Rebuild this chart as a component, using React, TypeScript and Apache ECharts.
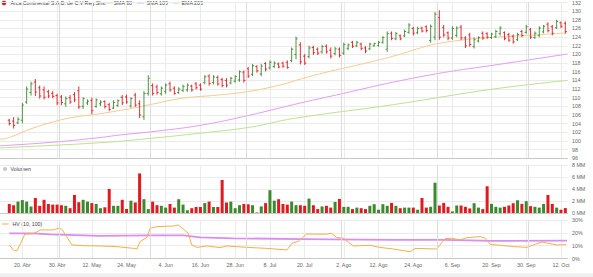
import React, { useEffect, useRef } from "react";
import * as echarts from "echarts";

// ---------------- data ----------------
const FIRST_DAY = "2021-04-15";
const LAST_DAY = "2021-10-13";
const HOLIDAYS = ["2021-09-16"];

const MONTHS_ES = ["Ene", "Feb", "Mar", "Abr", "May", "Jun", "Jul", "Ago", "Sep", "Oct", "Nov", "Dic"];
const tickDates = [
  "2021-04-20", "2021-04-30", "2021-05-12", "2021-05-24", "2021-06-04", "2021-06-16",
  "2021-06-28", "2021-07-08", "2021-07-20", "2021-08-02", "2021-08-12", "2021-08-24",
  "2021-09-06", "2021-09-20", "2021-09-30", "2021-10-12",
];

const opens = [
  104.8, 104.6, 104.2, 104.8, 109.0, 111.2, 113.6, 112.3, 111.8, 111.4,
  111.0, 110.5, 110.2, 108.6, 110.0, 110.7, 111.6, 108.0, 108.8, 109.4,
  108.0, 108.6, 109.1, 108.4, 107.6, 108.2, 110.1, 110.2, 108.1, 110.6,
  108.6, 105.6, 111.0, 112.8, 112.5, 110.9, 111.4, 113.2, 112.2, 111.2,
  111.7, 111.8, 112.7, 113.2, 112.9, 113.5, 115.0, 113.5, 114.7, 114.2,
  114.0, 113.4, 113.8, 114.1, 115.9, 116.7, 115.4, 117.2, 115.5, 117.9,
  116.9, 117.2, 117.8, 118.0, 118.2, 118.6, 120.0, 122.2, 119.6, 119.5,
  121.6, 121.2, 120.6, 121.9, 121.0, 120.2, 121.2, 120.3, 121.4, 122.8,
  122.0, 122.4, 121.5, 121.3, 122.0, 122.1, 122.8, 121.2, 124.9, 123.6,
  124.3, 124.3, 125.1, 126.0, 125.0, 126.1, 126.4, 123.2, 124.0, 128.5,
  126.2, 125.0, 123.8, 124.4, 126.3, 123.8, 124.5, 121.8, 123.1, 124.9,
  124.8, 123.9, 124.1, 124.8, 125.0, 124.6, 124.2, 123.4, 125.3, 125.1,
  125.7, 123.9, 124.4, 125.2, 127.0, 126.4, 126.2, 127.3, 127.2,
];
const highs = [
  105.0, 105.4, 105.4, 108.7, 112.5, 113.6, 114.2, 112.7, 112.5, 111.7,
  111.4, 110.8, 110.5, 110.2, 110.5, 111.2, 112.5, 110.0, 109.5, 109.9,
  109.7, 109.3, 109.3, 108.7, 109.3, 109.5, 110.5, 110.6, 110.0, 111.0,
  109.3, 111.4, 115.1, 113.2, 112.9, 112.5, 113.2, 113.6, 112.5, 112.3,
  112.9, 113.2, 112.9, 113.5, 113.2, 115.1, 115.3, 115.1, 115.0, 114.5,
  114.4, 114.7, 115.1, 116.2, 116.2, 117.0, 117.7, 117.4, 117.7, 118.1,
  118.5, 118.3, 118.0, 118.2, 118.5, 121.5, 124.0, 122.7, 120.0, 121.9,
  121.9, 121.5, 122.1, 122.2, 121.5, 121.6, 121.5, 122.6, 122.4, 123.0,
  123.0, 122.6, 121.8, 122.6, 122.6, 123.0, 124.1, 125.2, 125.2, 125.1,
  124.5, 125.6, 127.1, 126.3, 126.3, 126.3, 126.6, 126.8, 129.7, 130.1,
  126.7, 125.2, 126.4, 126.4, 126.7, 124.1, 124.9, 123.8, 124.1, 125.2,
  125.0, 124.9, 125.6, 126.4, 125.2, 124.9, 124.5, 124.9, 125.6, 126.7,
  126.0, 125.2, 126.4, 126.7, 127.3, 126.7, 127.9, 127.5, 127.5,
];
const lows = [
  103.7, 103.0, 104.0, 104.2, 108.7, 110.6, 110.5, 109.9, 109.7, 110.0,
  110.0, 108.4, 108.4, 108.0, 108.7, 109.1, 107.5, 107.5, 108.4, 106.3,
  107.8, 108.2, 107.6, 107.0, 107.5, 108.0, 108.4, 108.7, 107.8, 108.0,
  105.4, 105.0, 110.6, 110.6, 110.8, 110.6, 111.0, 111.5, 110.8, 111.0,
  111.4, 111.5, 111.5, 112.0, 111.7, 113.2, 112.9, 113.2, 112.9, 112.5,
  112.5, 113.2, 113.6, 113.8, 113.6, 114.7, 115.1, 115.9, 115.1, 116.2,
  116.6, 117.0, 116.9, 117.0, 116.8, 118.3, 119.0, 117.8, 117.7, 119.2,
  120.0, 120.0, 120.3, 120.3, 119.2, 119.9, 119.4, 120.0, 121.1, 121.6,
  121.8, 121.1, 120.4, 121.1, 121.9, 121.9, 122.6, 120.7, 123.4, 123.4,
  123.4, 124.1, 124.9, 124.5, 124.8, 125.2, 125.2, 122.8, 123.4, 123.5,
  124.1, 123.4, 123.5, 124.1, 123.4, 121.6, 121.9, 121.5, 122.9, 123.5,
  123.7, 123.7, 123.9, 124.5, 123.4, 123.0, 122.6, 123.2, 124.1, 124.9,
  123.7, 123.7, 124.1, 125.0, 125.2, 124.5, 126.0, 126.2, 124.9,
];
const closes = [
  104.0, 103.6, 105.0, 108.3, 112.0, 113.2, 111.3, 110.4, 110.1, 110.4,
  110.3, 108.8, 108.9, 109.8, 109.0, 109.5, 107.9, 109.8, 109.2, 107.0,
  109.5, 109.0, 108.0, 107.3, 108.9, 109.3, 108.8, 109.0, 109.8, 108.3,
  106.0, 111.0, 114.5, 111.0, 111.2, 112.2, 112.9, 111.8, 111.0, 112.0,
  112.6, 112.9, 111.8, 112.3, 112.0, 114.8, 113.3, 114.8, 113.2, 112.8,
  112.9, 114.5, 114.9, 116.0, 114.0, 115.0, 117.4, 116.2, 117.3, 116.6,
  118.2, 118.0, 117.1, 117.3, 117.0, 121.2, 123.6, 118.3, 118.0, 121.5,
  120.4, 120.3, 121.8, 120.6, 119.6, 121.3, 119.8, 122.3, 122.2, 121.9,
  122.8, 121.4, 120.8, 122.4, 122.5, 122.8, 123.9, 124.8, 123.7, 124.8,
  123.6, 125.3, 126.8, 124.9, 126.0, 125.4, 125.5, 126.5, 129.3, 124.0,
  124.5, 123.8, 126.0, 126.1, 123.8, 122.0, 122.3, 123.4, 123.9, 123.8,
  124.0, 124.7, 125.3, 126.1, 123.7, 123.3, 122.9, 124.6, 124.4, 126.4,
  124.0, 124.9, 126.1, 126.5, 125.5, 124.9, 127.6, 126.5, 125.3,
];
// volume in millions
const volumes = [
  1.5, 1.3, 1.9, 2.15, 1.9, 1.1, 2.5, 1.2, 2.2, 1.5,
  1.4, 1.4, 1.3, 1.2, 0.8, 3.0, 1.8, 2.2, 1.9, 1.65,
  1.5, 0.8, 0.95, 4.0, 1.2, 1.2, 2.2, 0.65, 2.05, 1.75,
  6.6, 2.3, 0.65, 1.9, 1.3, 1.2, 0.9, 1.5, 0.9, 2.3,
  1.4, 0.45, 0.8, 1.0, 1.0, 1.65, 1.9, 1.0, 1.0, 5.5,
  1.75, 1.9, 0.8, 1.3, 1.5, 1.45, 1.3, 0.1, 1.1, 1.65,
  3.8, 2.05, 2.3, 1.5, 1.4, 1.9, 1.3, 1.3, 1.2, 2.4,
  1.3, 0.65, 1.1, 1.2, 0.9, 1.85, 2.35, 1.03, 1.03, 0.65,
  0.9, 0.8, 0.65, 1.2, 1.47, 0.55, 1.47, 1.2, 1.68, 1.2,
  0.8, 0.9, 0.9, 0.9, 0.55, 2.5, 0.9, 1.03, 5.05, 1.25,
  1.68, 1.03, 0.27, 1.25, 1.25, 1.03, 0.76, 1.63, 0.9, 0.65,
  4.46, 1.52, 1.03, 0.9, 1.03, 1.25, 1.63, 2.12, 1.52, 1.96,
  1.14, 1.03, 0.9, 1.52, 3.0, 1.52, 0.9, 0.55, 0.82,
];
// moving averages: [bar index, price]
const sma38 = [
  [-2.14, 100.4], [0, 100.8], [5.5, 103.0], [13.3, 105.2], [20.9, 106.3], [28.5, 107.6],
  [32.4, 108.4], [40, 109.9], [47.9, 110.6], [55.5, 111.5], [63, 113.1], [67, 114.3],
  [73, 115.9], [80.8, 117.7], [88.4, 119.6], [96, 121.9], [99.2, 122.6], [105.7, 123.5],
  [113.5, 124.1], [121.1, 124.5], [128.5, 125.0],
];
const sma100 = [
  [-2.14, 98.9], [0, 99.0], [11, 99.8], [20.9, 100.8], [25.5, 101.4], [32.4, 102.1],
  [43.9, 103.6], [55.5, 106.0], [65.4, 108.4], [76.9, 111.0], [88.4, 113.6], [99.9, 115.8],
  [111.4, 117.5], [128.5, 120.1],
];
const ema200 = [
  [-2.14, 98.4], [0, 98.5], [20.9, 99.6], [32.4, 100.6], [43.9, 101.8], [55.5, 103.2],
  [65.4, 105.2], [88.4, 108.4], [111.4, 112.0], [128.5, 114.0],
];
// historical volatility (%): [bar index, value]
const hv10 = [
  [0, 10.6], [1.1, 6.1], [1.8, 6.1], [2.6, 11.9], [3.6, 19.1], [5.5, 19.3], [7.1, 22.3],
  [10.1, 22.3], [11.3, 23.6], [12.1, 22.8], [13.2, 17.1], [14.4, 10.6], [17, 10.0],
  [20.9, 9.8], [24.7, 9.3], [28.6, 7.9], [29.4, 7.4], [30.1, 13.2], [31.7, 16.5],
  [32.4, 23.6], [34, 24.9], [37.8, 25.4], [38.9, 26.2], [40.1, 22.8], [41.2, 19.7],
  [42, 10.6], [43.2, 8.7], [45.5, 9.8], [48.5, 8.5], [50.1, 9.8], [54.7, 8.7],
  [59.3, 7.9], [63.9, 6.7], [65.1, 11.9], [66.6, 13.5], [68.4, 19.1], [73, 19.0],
  [74.2, 19.7], [75.3, 16.5], [76.9, 15.8], [79.2, 9.8], [83, 10.3], [85.3, 8.7],
  [88.4, 7.4], [90.7, 6.1], [92.3, 5.3], [93.4, 7.9], [98.4, 7.4], [100.3, 15.5],
  [101.8, 15.8], [103.8, 14.5], [105.3, 16.3], [108.4, 17.1], [109.5, 16.0], [110.7, 11.1],
  [113, 10.3], [116.1, 9.3], [119.1, 8.7], [121.1, 11.1], [122.6, 12.9], [126, 10.6],
  [128.2, 10.8],
];
const hv100 = [
  [0, 19.7], [5.5, 19.7], [9.4, 18.9], [20.9, 17.6], [32.4, 18.1], [40.1, 18.1],
  [43.9, 16.5], [51.6, 15.8], [67, 15.2], [88.4, 14.5], [99.9, 14.5], [111.4, 13.7],
  [128.4, 13.9],
];

// ---------------- helpers ----------------
function buildTradingDays(from: string, to: string, skip: string[]): string[] {
  const out: string[] = [];
  const d = new Date(from + "T00:00:00Z");
  const end = new Date(to + "T00:00:00Z");
  while (d <= end) {
    const wd = d.getUTCDay();
    const iso = d.toISOString().slice(0, 10);
    if (wd !== 0 && wd !== 6 && skip.indexOf(iso) < 0) out.push(iso);
    d.setUTCDate(d.getUTCDate() + 1);
  }
  return out;
}
const dates = buildTradingDays(FIRST_DAY, LAST_DAY, HOLIDAYS);
const tickIdx = tickDates.map((d) => dates.indexOf(d));
const labelFor = (v: number) => {
  const i = Math.round(v);
  const d = dates[i];
  if (!d) return "";
  return `${parseInt(d.slice(8, 10), 10)}. ${MONTHS_ES[parseInt(d.slice(5, 7), 10) - 1]}`;
};
const monthBounds: number[] = [];
for (let i = 1; i < dates.length; i++) {
  if (dates[i].slice(5, 7) !== dates[i - 1].slice(5, 7)) monthBounds.push(i - 0.5);
}

const GREEN = "#3b8a2e";
const RED = "#e2191f";
const FONT = "'Liberation Sans', Arial, sans-serif";
const X_MIN = -2.14;
const X_MAX = 128.5;
const AXIS_FS = 5.3;
const LEGEND_FS = 5.25;

function buildOption(): any {
  const ohlc = dates.map((_, i) => [i, opens[i], closes[i], lows[i], highs[i]]);
  const vol = dates.map((_, i) => ({
    value: [i, volumes[i]],
    itemStyle: { color: closes[i] >= opens[i] ? GREEN : RED },
  }));
  const grids = [
    { left: 0, right: 25.5, top: -1.5, height: 159.8 },
    { left: 0, right: 25.5, top: 165, height: 48 },
    { left: 0, right: 25.5, top: 220.1, height: 38.4 },
  ];
  const monthMark = {
    silent: true,
    symbol: ["none", "none"],
    label: { show: false },
    lineStyle: { color: "#dcdcdc", width: 1, type: "solid" },
    data: monthBounds.map((v) => ({ xAxis: v })),
    animation: false,
  };
  const xAxes = grids.map((_, gi) => ({
    type: "value",
    gridIndex: gi,
    min: X_MIN,
    max: X_MAX,
    axisLine: { show: true, onZero: false, lineStyle: { color: "#c8c8c8", width: 1 } },
    axisTick: { show: false, customValues: tickIdx },
    axisLabel: {
      show: gi === 2,
      customValues: tickIdx,
      formatter: (v: number) => labelFor(v),
      fontSize: AXIS_FS,
      color: "#666",
      fontFamily: FONT,
      margin: 4,
    },
    splitLine: { show: true, lineStyle: { color: "#ebebeb", width: 1 } },
  }));
  const yBase = (gi: number) => ({
    type: "value",
    gridIndex: gi,
    position: "right",
    axisLine: { show: false },
    axisTick: { show: false },
    splitLine: { show: true, lineStyle: { color: "#ebebeb", width: 1 } },
  });
  const labelStyle = { fontSize: AXIS_FS, color: "#666", fontFamily: FONT, margin: 4.5 };
  const yAxes = [
    { ...yBase(0), min: 96, max: 132, interval: 2, axisLabel: { ...labelStyle } },
    { ...yBase(1), min: 0, max: 8, interval: 2, axisLabel: { ...labelStyle, formatter: "{value} MM" } },
    { ...yBase(2), min: 0, max: 30, interval: 10, axisLabel: { ...labelStyle, formatter: "{value}%" } },
  ];

  const legendText = (x: number, y: number, text: string) => ({
    type: "text",
    x,
    y,
    silent: true,
    style: { text, fontSize: LEGEND_FS, fill: "#444", fontFamily: FONT, verticalAlign: "middle" },
  });
  const legendLine = (x: number, y: number, color: string) => ({
    type: "line",
    silent: true,
    shape: { x1: x, y1: y, x2: x + 6.5, y2: y },
    style: { stroke: color, lineWidth: 1 },
  });

  return {
    animation: false,
    backgroundColor: "#ffffff",
    grid: grids,
    xAxis: xAxes,
    yAxis: yAxes,
    graphic: [
      { type: "circle", silent: true, shape: { cx: 4, cy: 3, r: 2.3 }, style: { fill: RED } },
      legendText(10.5, 3, "Arca Continental S.A.B. de C.V Reg.Shs."),
      legendLine(106, 3, "#f9c890"),
      legendText(113.5, 3, "SMA 38"),
      legendLine(137.5, 3, "#e39cf3"),
      legendText(146.5, 3, "SMA 100"),
      legendLine(173, 3, "#bde28f"),
      legendText(181.5, 3, "EMA 200"),
      { type: "circle", silent: true, shape: { cx: 5, cy: 169, r: 2 }, style: { fill: "#c8c8c8" } },
      legendText(10.5, 169, "Volumen"),
      legendLine(2, 224, "#f6ad45"),
      legendText(12.5, 224, "HV (10, 100)"),
      { type: "rect", silent: true, shape: { x: 0, y: 273.5, width: 593, height: 4 }, style: { fill: "#efefef" } },
    ],
    series: [
      {
        name: "EMA 200",
        type: "line",
        xAxisIndex: 0,
        yAxisIndex: 0,
        data: ema200,
        smooth: 0.4,
        showSymbol: false,
        lineStyle: { color: "#bde28f", width: 1 },
        markLine: monthMark,
        z: 2,
      },
      {
        name: "SMA 100",
        type: "line",
        xAxisIndex: 0,
        yAxisIndex: 0,
        data: sma100,
        smooth: 0.4,
        showSymbol: false,
        lineStyle: { color: "#e39cf3", width: 1 },
        z: 2,
      },
      {
        name: "SMA 38",
        type: "line",
        xAxisIndex: 0,
        yAxisIndex: 0,
        data: sma38,
        smooth: 0.4,
        showSymbol: false,
        lineStyle: { color: "#f9c890", width: 1 },
        z: 2,
      },
      {
        name: "Arca Continental S.A.B. de C.V Reg.Shs.",
        type: "custom",
        xAxisIndex: 0,
        yAxisIndex: 0,
        data: ohlc,
        encode: { x: 0, y: [1, 2, 3, 4] },
        clip: true,
        z: 3,
        renderItem: (params: any, api: any) => {
          const x = api.value(0);
          const o = api.value(1);
          const c = api.value(2);
          const pO = api.coord([x, o]);
          const pC = api.coord([x, c]);
          const pL = api.coord([x, api.value(3)]);
          const pH = api.coord([x, api.value(4)]);
          const color = c >= o ? GREEN : RED;
          const w = 1.6;
          const st = { stroke: color, lineWidth: 1, opacity: 0.9 };
          return {
            type: "group",
            children: [
              { type: "line", shape: { x1: pH[0], y1: pH[1] - 0.5, x2: pL[0], y2: pL[1] + 0.5 }, style: st },
              { type: "line", shape: { x1: pO[0] - w, y1: pO[1], x2: pO[0], y2: pO[1] }, style: st },
              { type: "line", shape: { x1: pC[0], y1: pC[1], x2: pC[0] + w, y2: pC[1] }, style: st },
            ],
          };
        },
      },
      {
        name: "Volumen",
        type: "bar",
        xAxisIndex: 1,
        yAxisIndex: 1,
        data: vol,
        barWidth: 3,
        markLine: monthMark,
      },
      {
        name: "HV 100",
        type: "line",
        xAxisIndex: 2,
        yAxisIndex: 2,
        data: hv100,
        showSymbol: false,
        lineStyle: { color: "#d98cf1", width: 1.8 },
        markLine: monthMark,
      },
      {
        name: "HV 10",
        type: "line",
        xAxisIndex: 2,
        yAxisIndex: 2,
        data: hv10,
        showSymbol: false,
        lineStyle: { color: "#f6ad45", width: 1 },
      },
    ],
  };
}

export default function App() {
  const ref = useRef<HTMLDivElement>(null);
  useEffect(() => {
    if (!ref.current) return;
    const chart = echarts.init(ref.current, undefined, { renderer: "svg" });
    chart.setOption(buildOption());
    return () => chart.dispose();
  }, []);
  return (
    <div
      ref={ref}
      style={{ position: "fixed", left: 0, top: 0, width: 593, height: 277, background: "#fff" }}
    />
  );
}
